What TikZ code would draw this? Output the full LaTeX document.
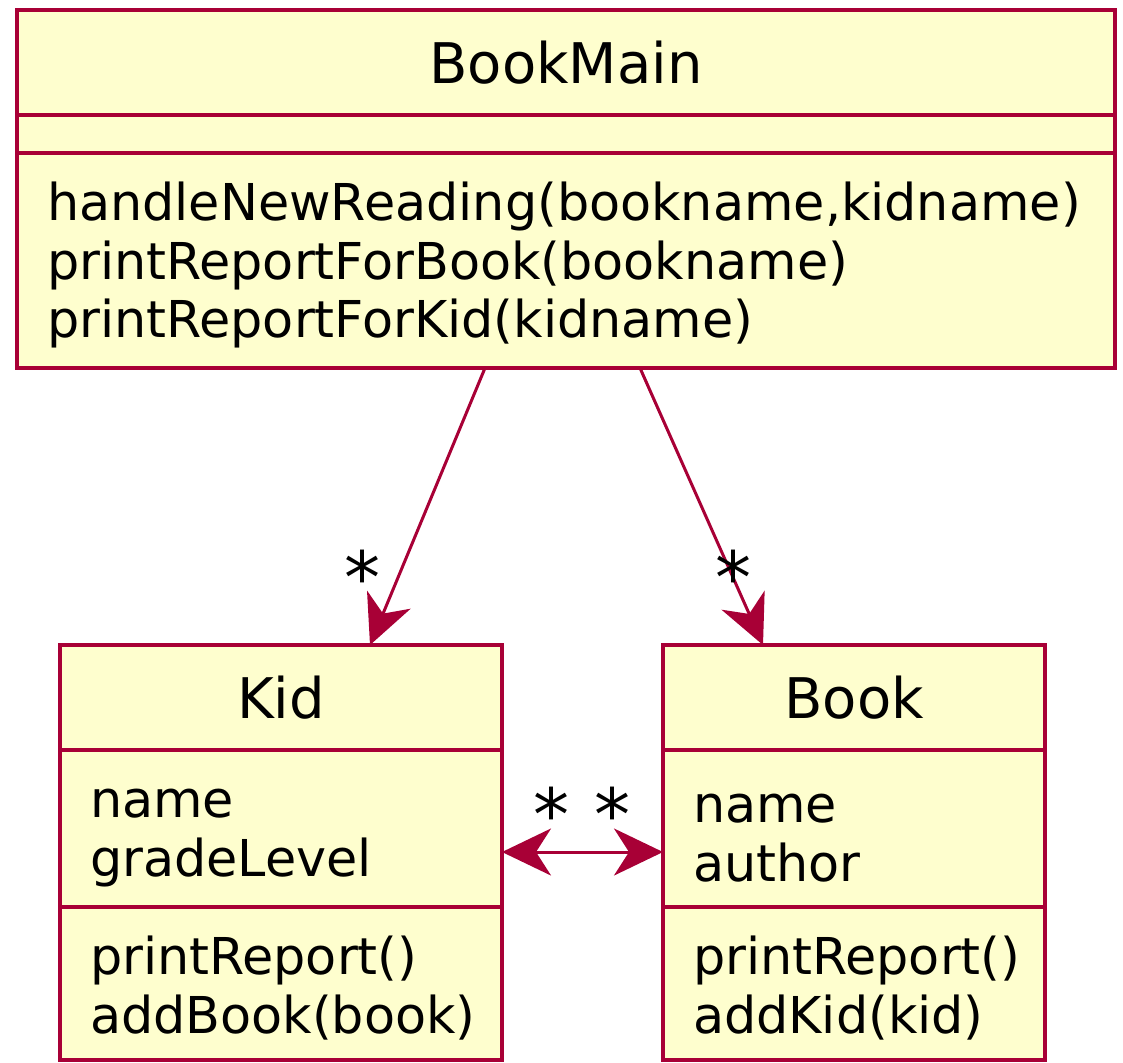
\documentclass[tikz,border=0pt]{standalone}
\usepackage{fontspec}
\setmainfont{DejaVu Sans}
\usetikzlibrary{arrows.meta, positioning, calc}
\definecolor{cborde}{HTML}{A80036}
\definecolor{cfondo}{HTML}{FEFECE}
\tikzset{
  caja/.style={rectangle, draw=cborde, fill=cfondo, line width=1.75pt, text width=#1,
               inner xsep=15pt, inner ysep=0pt, outer sep=0pt},
  titulo/.style={caja=#1, align=center, font=\fontsize{28}{33}\selectfont},
  miembros/.style={caja=#1, align=left, font=\fontsize{25.4}{29.3}\selectfont,
                   execute at begin node={\rule{0pt}{24pt}}},
  mult/.style={font=\fontsize{36}{40}\selectfont, inner sep=0pt},
  punta/.tip={Stealth[length=24.5pt, width=23.5pt, inset=7.5pt]},
  flecha/.style={draw=cborde, line width=1.5pt},
}

\begin{document}
\begin{tikzpicture}[x=0.5pt, y=-0.5pt]
        \useasboundingbox (0,0) rectangle (1123,1062);
        % clase BookMain
        \node[titulo=519pt, minimum height=52.5pt] (bmtit) at (566,62.5) {BookMain};
        \node[caja=519pt, minimum height=19pt, below=0pt of bmtit] (bmatr) {};
        \node[miembros=519pt, minimum height=107.5pt, below=0pt of bmatr] (bmmet)
            {handleNewReading(bookname,kidname)\\printReportForBook(bookname)\\printReportForKid(kidname)};
        % clase Kid
        \node[titulo=191pt, minimum height=52.5pt] (kidtit) at (281,697.5) {Kid};
        \node[miembros=191pt, minimum height=78.5pt, below=0pt of kidtit] (kidatr) {name\\gradeLevel};
        \node[miembros=191pt, minimum height=76.5pt, below=0pt of kidatr] (kidmet) {printReport()\\addBook(book)};
        % clase Book
        \node[titulo=161pt, minimum height=52.5pt] (booktit) at (854,697.5) {Book};
        \node[miembros=161pt, minimum height=78.5pt, below=0pt of booktit] (bookatr) {name\\author};
        \node[miembros=161pt, minimum height=76.5pt, below=0pt of bookatr] (bookmet) {printReport()\\addKid(kid)};
        % asociaciones
        \draw[flecha, -punta] ($(bmmet.south)+(-81,0)$) -- ($(kidtit.north)+(89,0)$);
        \draw[flecha, -punta] ($(bmmet.south)+(74,0)$) -- ($(booktit.north)+(-91,0)$);
        \draw[flecha, punta-punta] ($(kidatr.east)+(0,23.5)$) -- ($(bookatr.west)+(0,23.5)$);
        \node[mult] (mkid) at (362,577) {*};
        \node[mult] (mbook) at (733,577) {*};
        \node[mult] (mizq) at (551,814) {*};
        \node[mult] (mder) at (612,814) {*};
    \end{tikzpicture}
\end{document}
